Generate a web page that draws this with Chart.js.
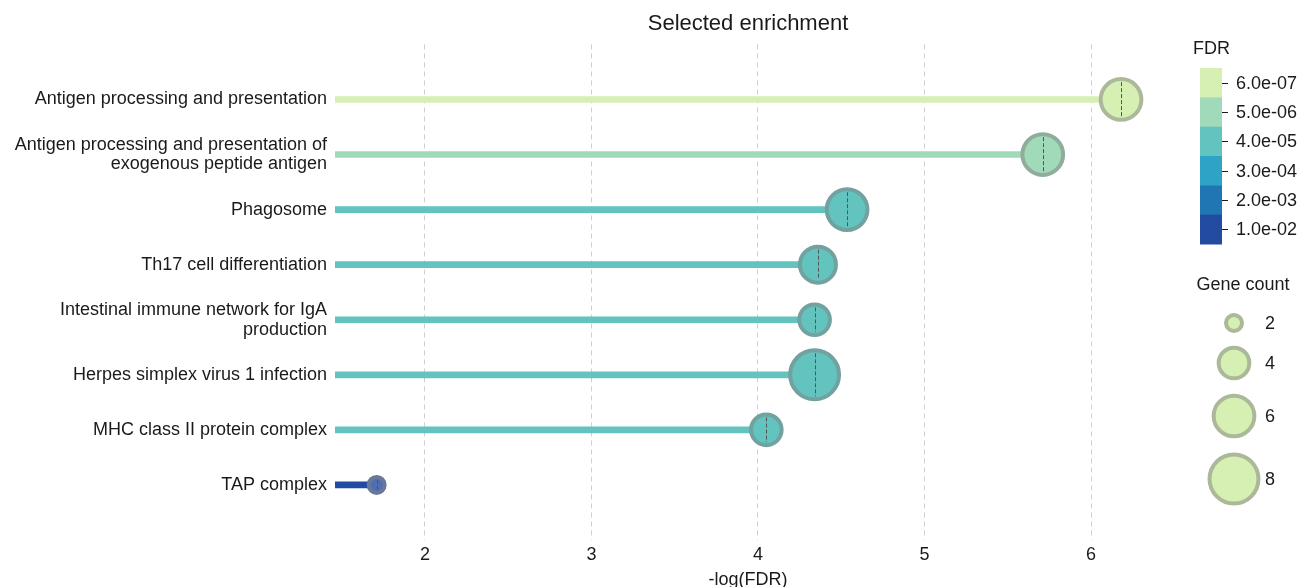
<!DOCTYPE html>
<html>
<head>
<meta charset="utf-8">
<title>Selected enrichment</title>
<script src="https://cdn.jsdelivr.net/npm/chart.js@4.4.1/dist/chart.umd.min.js"></script>
<style>
  html, body { margin: 0; padding: 0; background: #ffffff; }
  canvas { display: block; }
</style>
</head>
<body>
<canvas id="chart" width="1299" height="587"></canvas>
<script>
// Enriched terms, top to bottom
const terms = [
  ['Antigen processing and presentation'],
  ['Antigen processing and presentation of', 'exogenous peptide antigen'],
  ['Phagosome'],
  ['Th17 cell differentiation'],
  ['Intestinal immune network for IgA', 'production'],
  ['Herpes simplex virus 1 infection'],
  ['MHC class II protein complex'],
  ['TAP complex']
];
// -log10(FDR) per term
const negLogFdr = [6.18, 5.71, 4.535, 4.36, 4.34, 4.34, 4.05, 1.71];
// Number of genes per term
const geneCounts = [6, 6, 6, 5, 4, 8, 4, 2];

const xTicks = [2, 3, 4, 5, 6];
const fdrLegendLabels = ['6.0e-07', '5.0e-06', '4.0e-05', '3.0e-04', '2.0e-03', '1.0e-02'];
const fdrColors = ['#d6efb3', '#a0dab8', '#63c3bf', '#2ea3c5', '#2075b3', '#234b9f'];
const geneCountLegend = [2, 4, 6, 8];

const FONT = "'Liberation Sans', Arial, Helvetica, sans-serif";
const TEXT = '#1a1a1a';
const BUBBLE_BW = 4;

// colour bin from -log10(FDR)
function colorFor(v) {
  if (v >= 6) return fdrColors[0];
  if (v >= 5) return fdrColors[1];
  if (v >= 4) return fdrColors[2];
  if (v >= 3) return fdrColors[3];
  if (v >= 2) return fdrColors[4];
  return fdrColors[5];
}
function rgb(hex) {
  const n = parseInt(hex.slice(1), 16);
  return [(n >> 16) & 255, (n >> 8) & 255, n & 255];
}
// small-term bubbles are slightly washed out
function bubbleFill(hex, v) {
  const a = v < 2 ? 0.8 : 1;
  const c = rgb(hex).map(x => Math.round(x * a + 255 * (1 - a)));
  return `rgb(${c[0]},${c[1]},${c[2]})`;
}
// edge: half face colour, half mid grey
function bubbleEdge(hex, v) {
  const a = v < 2 ? 0.8 : 1;
  const c = rgb(hex).map(x => Math.round((x * a + 255 * (1 - a) + 128) / 2));
  return `rgb(${c[0]},${c[1]},${c[2]})`;
}
// outer radius grows with the square root of (count - 1)
function outerRadius(count) { return 10 * Math.sqrt(count - 1); }

const stemData = negLogFdr.map((v, i) => ({ x: v, y: i }));
const bubbleData = negLogFdr.map((v, i) => ({ x: v, y: i, count: geneCounts[i] }));

// dashed centre line inside every bubble
const bubbleCentreLines = {
  id: 'bubbleCentreLines',
  afterDatasetsDraw(chart) {
    const meta = chart.getDatasetMeta(1);
    const ctx = chart.ctx;
    ctx.save();
    ctx.strokeStyle = '#555555';
    ctx.lineWidth = 1;
    ctx.setLineDash([4, 2]);
    meta.data.forEach(el => {
      const r = el.options.radius - BUBBLE_BW / 2 - 1;
      ctx.beginPath();
      ctx.moveTo(Math.round(el.x) + 0.5, el.y - r);
      ctx.lineTo(Math.round(el.x) + 0.5, el.y + r);
      ctx.stroke();
    });
    ctx.restore();
  }
};

// colour bar and size legend on the right
const sideLegends = {
  id: 'sideLegends',
  afterDraw(chart) {
    const ctx = chart.ctx;
    ctx.save();
    ctx.fillStyle = TEXT;
    ctx.font = `18px ${FONT}`;
    ctx.textBaseline = 'middle';
    ctx.textAlign = 'left';
    ctx.fillText('FDR', 1193, 49);

    const barX = 1200, barW = 22, barTop = 68, barBottom = 244;
    const h = (barBottom - barTop) / fdrColors.length;
    fdrColors.forEach((c, i) => {
      ctx.fillStyle = c;
      ctx.fillRect(barX, barTop + i * h, barW, h + 0.5);
    });
    ctx.strokeStyle = TEXT;
    ctx.lineWidth = 1;
    fdrLegendLabels.forEach((lab, i) => {
      const y = barTop + (i + 0.5) * h;
      ctx.beginPath();
      ctx.moveTo(barX + barW, Math.round(y) + 0.5);
      ctx.lineTo(barX + barW + 6, Math.round(y) + 0.5);
      ctx.stroke();
      ctx.fillStyle = TEXT;
      ctx.fillText(lab, 1236, y + 1);
    });

    ctx.textAlign = 'center';
    ctx.fillText('Gene count', 1243, 285);
    const ys = [323, 363, 416, 479];
    geneCountLegend.forEach((n, i) => {
      const r = outerRadius(n) - BUBBLE_BW / 2;
      ctx.beginPath();
      ctx.arc(1234, ys[i], r, 0, Math.PI * 2);
      ctx.fillStyle = bubbleFill(fdrColors[0], 10);
      ctx.fill();
      ctx.lineWidth = BUBBLE_BW;
      ctx.strokeStyle = bubbleEdge(fdrColors[0], 10);
      ctx.stroke();
      ctx.fillStyle = TEXT;
      ctx.textAlign = 'left';
      ctx.fillText(String(n), 1265, ys[i] + 1);
    });
    ctx.restore();
  }
};

new Chart(document.getElementById('chart'), {
  data: {
    datasets: [
      {
        type: 'bar',
        indexAxis: 'y',
        data: stemData,
        backgroundColor: negLogFdr.map(colorFor),
        borderWidth: 0,
        barThickness: 6,
        order: 2
      },
      {
        type: 'bubble',
        data: bubbleData,
        backgroundColor: negLogFdr.map(v => bubbleFill(colorFor(v), v)),
        borderColor: negLogFdr.map(v => bubbleEdge(colorFor(v), v)),
        borderWidth: BUBBLE_BW,
        radius: ctx => outerRadius(ctx.raw.count) - BUBBLE_BW / 2,
        clip: false,
        order: 1
      }
    ]
  },
  options: {
    responsive: false,
    animation: false,
    events: [],
    devicePixelRatio: 1,
    layout: { autoPadding: false, padding: { left: 0, right: 138, top: 0, bottom: 0 } },
    plugins: {
      legend: { display: false },
      tooltip: { enabled: false },
      title: {
        display: true,
        text: 'Selected enrichment',
        fullSize: false,
        color: TEXT,
        font: { family: FONT, size: 22, weight: 'normal', lineHeight: 1.2 },
        padding: { top: 11, bottom: 7 }
      }
    },
    scales: {
      x: {
        type: 'linear',
        position: 'bottom',
        min: 1.46,
        max: 6.42,
        offset: false,
        afterBuildTicks: s => { s.ticks = xTicks.map(v => ({ value: v })); },
        afterFit: s => { s.height = 47; },
        border: { display: false, dash: [5, 4] },
        grid: { color: '#cfcfcf', lineWidth: 1, drawTicks: false, offset: false },
        ticks: { color: TEXT, padding: 4, font: { family: FONT, size: 18 } },
        title: {
          display: true,
          text: '-log(FDR)',
          color: TEXT,
          font: { family: FONT, size: 18, lineHeight: 1.2 },
          padding: { top: 0, bottom: -4 }
        }
      },
      y: {
        type: 'linear',
        reverse: true,
        min: -1,
        max: 8,
        offset: false,
        afterBuildTicks: s => { s.ticks = terms.map((t, i) => ({ value: i })); },
        afterFit: s => { s.width = 335; },
        border: { display: false },
        grid: { display: false, drawTicks: false, offset: false },
        ticks: {
          color: TEXT,
          padding: 8,
          font: { family: FONT, size: 18, lineHeight: 1.11 },
          callback: v => terms[v] || ''
        }
      }
    }
  },
  plugins: [bubbleCentreLines, sideLegends]
});
</script>
</body>
</html>
